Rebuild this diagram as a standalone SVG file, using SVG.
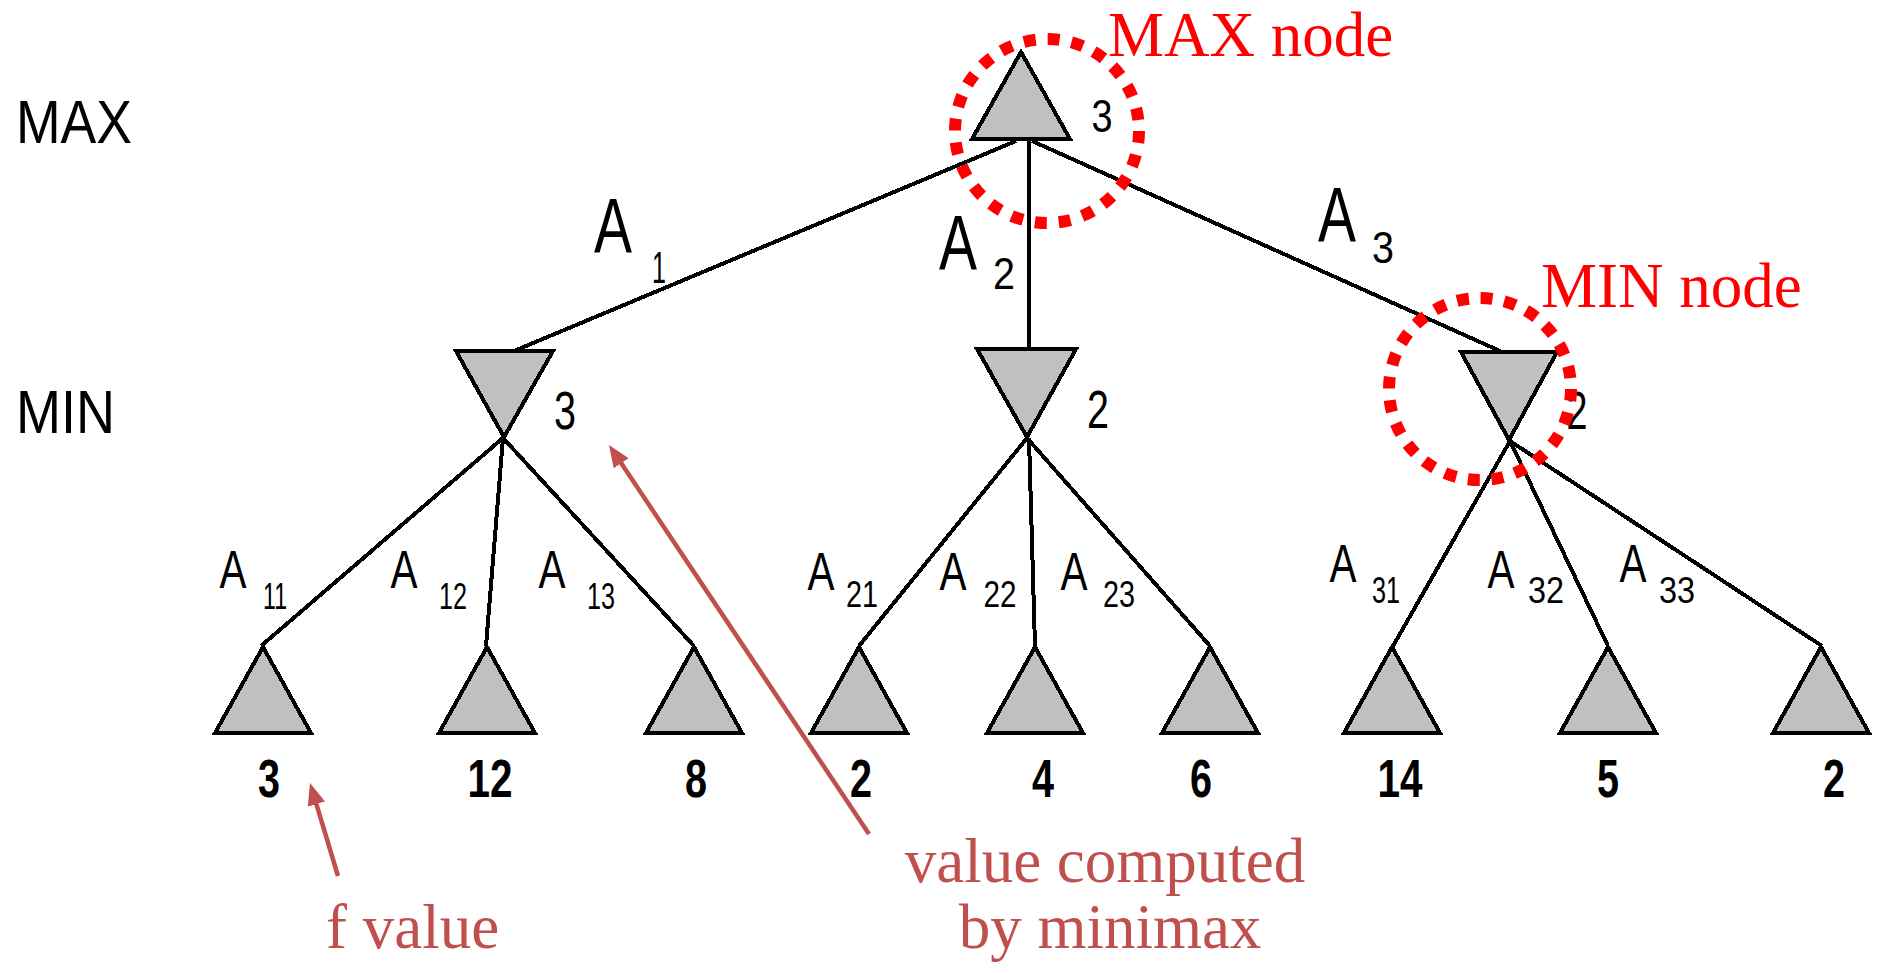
<svg xmlns="http://www.w3.org/2000/svg" width="1882" height="973" viewBox="0 0 1882 973">
<style>
.tri{fill:#C0C0C0;stroke:#000;stroke-width:4;stroke-linejoin:miter;shape-rendering:crispEdges}
.edge{stroke:#000;stroke-width:4;fill:none;shape-rendering:crispEdges}
.px{font-family:"Liberation Sans",Arial,sans-serif;fill:#000}
.lvl{font-size:61px}
.val{font-size:53px;text-anchor:middle}
.leafv{font-weight:bold}
.mval{font-size:47px;text-anchor:middle}
.bigA{font-size:77px;text-anchor:middle}
.sub1{font-size:45px;text-anchor:middle}
.smA{font-size:53px;text-anchor:middle}
.sub2{font-size:37px;text-anchor:middle}
.red{font-family:"Liberation Serif","Times New Roman",serif;font-size:63px;fill:#FF0000}
.ann{font-family:"Liberation Serif","Times New Roman",serif;font-size:63px;fill:#C0504D}
.ring{fill:none;stroke:#FF0000;stroke-width:12}
.arrow{stroke:#C0504D;stroke-width:4.5;fill:none}
</style>
<defs>
<marker id="head" markerUnits="userSpaceOnUse" markerWidth="24" markerHeight="20" refX="2" refY="10" orient="auto" viewBox="0 0 24 20">
<path d="M0,1 L22,10 L0,19 z" fill="#C0504D"/>
</marker>
</defs>
<rect x="0" y="0" width="1882" height="973" fill="#FFFFFF"/>

<g id="level-labels">
<text class="px lvl" x="16" y="143" textLength="116" lengthAdjust="spacingAndGlyphs">MAX</text>
<text class="px lvl" x="16" y="433" textLength="99" lengthAdjust="spacingAndGlyphs">MIN</text>
</g>

<g id="connectors">
<line class="edge" x1="1016" y1="141" x2="514" y2="351"/>
<line class="edge" x1="1029" y1="141" x2="1029" y2="347"/>
<line class="edge" x1="1032" y1="141" x2="1500" y2="351"/>
<line class="edge" x1="503" y1="438" x2="261" y2="646"/>
<line class="edge" x1="503" y1="438" x2="486" y2="646"/>
<line class="edge" x1="503" y1="438" x2="694" y2="646"/>
<line class="edge" x1="1027" y1="438" x2="859" y2="646"/>
<line class="edge" x1="1029" y1="438" x2="1035" y2="646"/>
<line class="edge" x1="1027" y1="438" x2="1210" y2="646"/>
<line class="edge" x1="1510" y1="441" x2="1393" y2="646"/>
<line class="edge" x1="1510" y1="441" x2="1608" y2="646"/>
<line class="edge" x1="1510" y1="441" x2="1822" y2="646"/>
</g>

<g id="edge-labels" class="px">
<text class="bigA" x="613" y="253" textLength="38" lengthAdjust="spacingAndGlyphs">A</text>
<text class="sub1" x="659" y="283" textLength="14" lengthAdjust="spacingAndGlyphs">1</text>
<text class="bigA" x="958" y="270" textLength="38" lengthAdjust="spacingAndGlyphs">A</text>
<text class="sub1" x="1004" y="289" textLength="22" lengthAdjust="spacingAndGlyphs">2</text>
<text class="bigA" x="1337" y="242" textLength="38" lengthAdjust="spacingAndGlyphs">A</text>
<text class="sub1" x="1383" y="263" textLength="22" lengthAdjust="spacingAndGlyphs">3</text>

<text class="smA" x="233" y="588" textLength="27" lengthAdjust="spacingAndGlyphs">A</text>
<text class="sub2" x="275" y="609" textLength="24" lengthAdjust="spacingAndGlyphs">11</text>
<text class="smA" x="404" y="588" textLength="27" lengthAdjust="spacingAndGlyphs">A</text>
<text class="sub2" x="453" y="609" textLength="28" lengthAdjust="spacingAndGlyphs">12</text>
<text class="smA" x="552" y="588" textLength="27" lengthAdjust="spacingAndGlyphs">A</text>
<text class="sub2" x="601" y="609" textLength="28" lengthAdjust="spacingAndGlyphs">13</text>

<text class="smA" x="821" y="590" textLength="27" lengthAdjust="spacingAndGlyphs">A</text>
<text class="sub2" x="862" y="607" textLength="32" lengthAdjust="spacingAndGlyphs">21</text>
<text class="smA" x="953" y="590" textLength="27" lengthAdjust="spacingAndGlyphs">A</text>
<text class="sub2" x="1000" y="607" textLength="33" lengthAdjust="spacingAndGlyphs">22</text>
<text class="smA" x="1074" y="590" textLength="27" lengthAdjust="spacingAndGlyphs">A</text>
<text class="sub2" x="1119" y="607" textLength="32" lengthAdjust="spacingAndGlyphs">23</text>

<text class="smA" x="1343" y="582" textLength="27" lengthAdjust="spacingAndGlyphs">A</text>
<text class="sub2" x="1386" y="603" textLength="28" lengthAdjust="spacingAndGlyphs">31</text>
<text class="smA" x="1501" y="588" textLength="27" lengthAdjust="spacingAndGlyphs">A</text>
<text class="sub2" x="1546" y="603" textLength="36" lengthAdjust="spacingAndGlyphs">32</text>
<text class="smA" x="1633" y="582" textLength="27" lengthAdjust="spacingAndGlyphs">A</text>
<text class="sub2" x="1677" y="603" textLength="36" lengthAdjust="spacingAndGlyphs">33</text>
</g>

<g id="max-root">
<polygon class="tri" points="1021,52 972,139 1070,139"/>
<text class="px mval" x="1102" y="132" textLength="21" lengthAdjust="spacingAndGlyphs">3</text>
</g>

<g id="min-1">
<polygon class="tri" points="456,351 553,351 504,437"/>
<text class="px val" x="565" y="429" textLength="22" lengthAdjust="spacingAndGlyphs">3</text>
</g>
<g id="min-2">
<polygon class="tri" points="977,349 1076,349 1027,437"/>
<text class="px val" x="1098" y="428" textLength="22" lengthAdjust="spacingAndGlyphs">2</text>
</g>
<g id="min-3">
<polygon class="tri" points="1461,352 1557,352 1509,440"/>
<text class="px val" x="1577" y="429" textLength="21" lengthAdjust="spacingAndGlyphs">2</text>
</g>

<g id="leaf-11"><polygon class="tri" points="263,647 215,733 311,733"/><text class="px val leafv" x="269" y="797" textLength="22" lengthAdjust="spacingAndGlyphs">3</text></g>
<g id="leaf-12"><polygon class="tri" points="487,647 439,733 535,733"/><text class="px val leafv" x="490" y="797" textLength="45" lengthAdjust="spacingAndGlyphs">12</text></g>
<g id="leaf-13"><polygon class="tri" points="694,647 646,733 742,733"/><text class="px val leafv" x="696" y="797" textLength="22" lengthAdjust="spacingAndGlyphs">8</text></g>
<g id="leaf-21"><polygon class="tri" points="859,647 811,733 907,733"/><text class="px val leafv" x="861" y="797" textLength="22" lengthAdjust="spacingAndGlyphs">2</text></g>
<g id="leaf-22"><polygon class="tri" points="1035,647 987,733 1083,733"/><text class="px val leafv" x="1043" y="797" textLength="22" lengthAdjust="spacingAndGlyphs">4</text></g>
<g id="leaf-23"><polygon class="tri" points="1210,647 1162,733 1258,733"/><text class="px val leafv" x="1201" y="797" textLength="22" lengthAdjust="spacingAndGlyphs">6</text></g>
<g id="leaf-31"><polygon class="tri" points="1392,647 1344,733 1440,733"/><text class="px val leafv" x="1400" y="797" textLength="45" lengthAdjust="spacingAndGlyphs">14</text></g>
<g id="leaf-32"><polygon class="tri" points="1608,647 1560,733 1656,733"/><text class="px val leafv" x="1608" y="797" textLength="22" lengthAdjust="spacingAndGlyphs">5</text></g>
<g id="leaf-33"><polygon class="tri" points="1821,647 1773,733 1869,733"/><text class="px val leafv" x="1834" y="797" textLength="22" lengthAdjust="spacingAndGlyphs">2</text></g>

<g id="max-callout">
<circle class="ring" cx="1047" cy="131" r="92" stroke-dasharray="12 12.085"/>
<text class="red" x="1108" y="56">MAX node</text>
</g>
<g id="min-callout">
<circle class="ring" cx="1480" cy="389" r="91" stroke-dasharray="12 11.82"/>
<text class="red" x="1541" y="307">MIN node</text>
</g>

<g id="annotations">
<line class="arrow" x1="338" y1="876" x2="315.8" y2="802.2" marker-end="url(#head)"/>
<line class="arrow" x1="869" y1="834" x2="620.1" y2="461.6" marker-end="url(#head)"/>
<text class="ann" x="326" y="948">f value</text>
<text class="ann" x="1105" y="882" text-anchor="middle">value computed</text>
<text class="ann" x="1110" y="948" text-anchor="middle">by minimax</text>
</g>
</svg>
